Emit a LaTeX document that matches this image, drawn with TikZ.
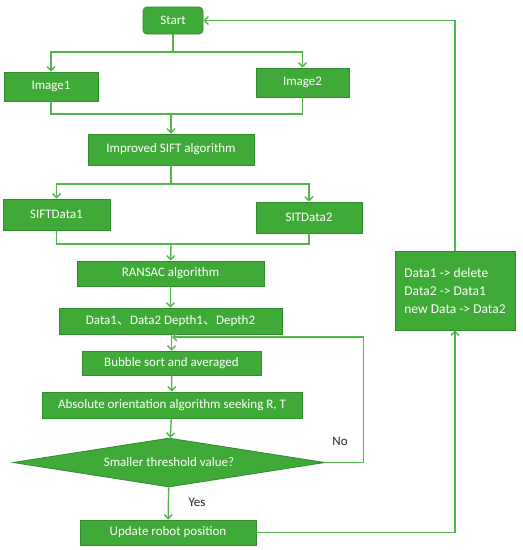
\documentclass[tikz,border=0pt]{standalone}
\usepackage{fontspec}
\setmainfont{Carlito}
\newfontfamily\cjk{Noto Sans CJK SC}
\usepackage{tikz}
\usetikzlibrary{arrows.meta,positioning,shapes.geometric}
\definecolor{gfill}{RGB}{64,170,56}
\definecolor{gline}{RGB}{48,140,44}
\definecolor{garrow}{RGB}{82,182,72}

\begin{document}
\begin{tikzpicture}[x=1pt,y=-1pt,font=\fontsize{13}{15}\selectfont,
  >={Straight Barb[length=4pt,width=8pt]},
  blk/.style={draw=gline,line width=0.8pt,fill=gfill,text=white,align=center,inner sep=0pt},
  dec/.style={diamond,shape aspect=6.4,draw=gline,line width=0.8pt,fill=gfill,text=white,inner sep=0pt},
  flow/.style={draw=garrow,line width=1.4pt},
  lab/.style={text=black!85,inner sep=1pt}]
\useasboundingbox (0,0) rectangle (523,550);

% ---------- top: two images ----------
\node[blk,rounded corners=4pt,minimum width=60pt,minimum height=27pt] (start) at (173,20.5) {Start};
\node[blk,minimum width=94pt,minimum height=29pt] (img1) at (51,86.5) {Image1};
\node[blk,minimum width=93pt,minimum height=29pt] (img2) at (302.5,82.5) {Image2};
\coordinate (sp1) at (173,52);
\coordinate (mg1) at (171,114);
\draw[flow] (start) -- (sp1);
\draw[flow,->] (sp1) -| (img1);
\draw[flow,->] (sp1) -| (img2);
\draw[flow] (img1.south) |- (mg1) -| (img2.south);

% ---------- feature extraction ----------
\node[blk,minimum width=166pt,minimum height=31pt] (sift) at (171,149.5) {Improved SIFT algorithm};
\node[blk,minimum width=107pt,minimum height=31pt] (sd1) at (56.5,214.5) {SIFTData1};
\node[blk,minimum width=106pt,minimum height=31pt] (sd2) at (309,217.5) {SITData2};
\coordinate (sp2) at (171,184);
\coordinate (mg2) at (171,244);
\draw[flow,->] (mg1) -- (sift);
\draw[flow] (sift) -- (sp2);
\draw[flow,->] (sp2) -| (sd1);
\draw[flow,->] (sp2) -| (sd2);
\draw[flow] (sd1.south) |- (mg2) -| (sd2.south);

% ---------- matching and pose ----------
\node[blk,minimum width=187pt,minimum height=25pt] (ransac) at (170.5,273.5) {RANSAC algorithm};
\node[blk,minimum width=223pt,minimum height=26pt] (data) at (170.5,321) {Data1{\cjk 、}Data2 Depth1{\cjk 、}Depth2};
\node[blk,minimum width=179pt,minimum height=24pt] (bubble) at (171.5,363) {Bubble sort and averaged};
\node[blk,minimum width=260pt,minimum height=26pt] (absor) at (172,405) {Absolute orientation algorithm seeking R, T};
\node[dec,minimum width=312pt,minimum height=49pt] (thr) at (169,462.5) {Smaller threshold value?};
\node[blk,minimum width=176pt,minimum height=25pt] (upd) at (168,532.5) {Update robot position};
\draw[flow,->] (mg2) -- (ransac);
\draw[flow,->] (ransac) -- (data);
\draw[flow,->] (data.south -| bubble.north) -- (bubble);
\draw[flow,->] (bubble) -- (absor);
\draw[flow,->] (absor) -- (thr);
\draw[flow,->] (thr) -- (upd);
\node[lab] (yes) at (197,502) {Yes};

% ---------- loop back ----------
\coordinate (fb) at (172,337);
\draw[flow,->] (thr.east) -- ++(38,0) |- (fb);
\node[lab] (no) at (340,441) {No};

% ---------- data swap ----------
\node[blk,minimum width=120pt,minimum height=79pt,align=left,
  font=\fontsize{13.5}{18}\selectfont] (swap) at (455,290.5) {Data1 -> delete\\Data2 -> Data1\\new Data -> Data2};
\draw[flow,->] (upd.east) -| (swap.south);
\draw[flow,->] (swap.north) |- (start.east);
\end{tikzpicture}
\end{document}
